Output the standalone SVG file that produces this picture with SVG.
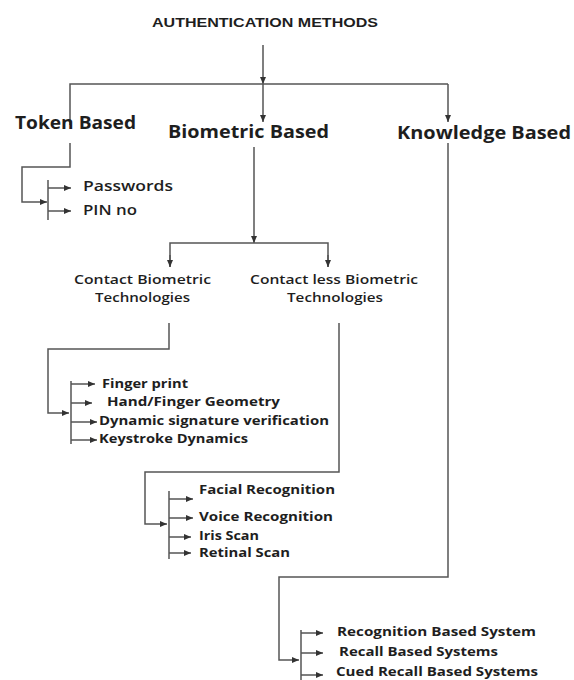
<svg xmlns="http://www.w3.org/2000/svg" width="574" height="680" viewBox="0 0 574 680">
<style>
.c{fill:none;stroke:#555;stroke-width:1.5}
.t{font-family:"Open Sans","Liberation Sans",sans-serif;fill:#1e1e1e}
.h{font-size:17px;font-weight:bold}
.s{font-size:12.5px;font-weight:600}
.l{font-size:12px;font-weight:bold}
.p{font-size:14px;font-weight:600}
.ttl{font-family:"Liberation Sans",Arial,sans-serif;font-size:13px;font-weight:bold;fill:#1e1e1e}
</style>
<defs>
<marker id="ah" markerUnits="userSpaceOnUse" markerWidth="7" markerHeight="6" refX="7" refY="3" orient="auto">
<path d="M0,0 L7,3 L0,6 z" fill="#333"/>
</marker>
</defs>
<rect width="574" height="680" fill="#fff"/>
<g id="connectors">
<path class="c" d="M263,45 V84" marker-end="url(#ah)"/>
<path class="c" d="M70,125 V84 H448"/>
<path class="c" d="M263,84 V122" marker-end="url(#ah)"/>
<path class="c" d="M448,84 V122" marker-end="url(#ah)"/>
<path class="c" d="M70,143 V167 H22 V202 H47" marker-end="url(#ah)"/>
<path class="c" d="M48,180 V220"/>
<path class="c" d="M48,188 H71" marker-end="url(#ah)"/>
<path class="c" d="M48,211 H71" marker-end="url(#ah)"/>
<path class="c" d="M254,147 V243" marker-end="url(#ah)"/>
<path class="c" d="M170,267 V243 H328 V267" />
<path class="c" d="M170,255 V267" marker-end="url(#ah)"/>
<path class="c" d="M328,255 V267" marker-end="url(#ah)"/>
<path class="c" d="M169,323 V349 H48 V413 H69" marker-end="url(#ah)"/>
<path class="c" d="M71,381 V444"/>
<path class="c" d="M71,384 H95" marker-end="url(#ah)"/>
<path class="c" d="M71,403 H92" marker-end="url(#ah)"/>
<path class="c" d="M71,422 H97" marker-end="url(#ah)"/>
<path class="c" d="M71,440 H97" marker-end="url(#ah)"/>
<path class="c" d="M339,323 V472 H145 V524 H167" marker-end="url(#ah)"/>
<path class="c" d="M169,491 V559"/>
<path class="c" d="M169,499 H193" marker-end="url(#ah)"/>
<path class="c" d="M169,518 H193" marker-end="url(#ah)"/>
<path class="c" d="M169,537 H191" marker-end="url(#ah)"/>
<path class="c" d="M169,553 H191" marker-end="url(#ah)"/>
<path class="c" d="M448,143 V577 H279 V660 H299" marker-end="url(#ah)"/>
<path class="c" d="M301,630 V680"/>
<path class="c" d="M301,633 H323" marker-end="url(#ah)"/>
<path class="c" d="M301,653 H323" marker-end="url(#ah)"/>
<path class="c" d="M301,675 H323" marker-end="url(#ah)"/>
</g>
<g id="title"><text class="ttl" x="152" y="27" textLength="226" lengthAdjust="spacingAndGlyphs">AUTHENTICATION METHODS</text></g>
<g id="token"><text class="t h" x="15" y="129" textLength="121" lengthAdjust="spacingAndGlyphs">Token Based</text></g>
<g id="biometric"><text class="t h" x="168" y="138" textLength="161" lengthAdjust="spacingAndGlyphs">Biometric Based</text></g>
<g id="knowledge"><text class="t h" x="397" y="139" textLength="174" lengthAdjust="spacingAndGlyphs">Knowledge Based</text></g>
<g id="passwords"><text class="t p" x="83" y="191" textLength="90" lengthAdjust="spacingAndGlyphs">Passwords</text></g>
<g id="pin"><text class="t p" x="83" y="215" textLength="54" lengthAdjust="spacingAndGlyphs">PIN no</text></g>
<g id="contact">
<text class="t s" x="74" y="284" textLength="137" lengthAdjust="spacingAndGlyphs">Contact Biometric</text>
<text class="t s" x="95" y="302" textLength="95" lengthAdjust="spacingAndGlyphs">Technologies</text>
</g>
<g id="contactless">
<text class="t s" x="250" y="284" textLength="168" lengthAdjust="spacingAndGlyphs">Contact less Biometric</text>
<text class="t s" x="287" y="302" textLength="96" lengthAdjust="spacingAndGlyphs">Technologies</text>
</g>
<g id="fingerprint"><text class="t l" x="102" y="388" textLength="86" lengthAdjust="spacingAndGlyphs">Finger print</text></g>
<g id="hand"><text class="t l" x="107" y="406" textLength="173" lengthAdjust="spacingAndGlyphs">Hand/Finger Geometry</text></g>
<g id="dynamic"><text class="t l" x="99" y="425" textLength="230" lengthAdjust="spacingAndGlyphs">Dynamic signature verification</text></g>
<g id="keystroke"><text class="t l" x="99" y="443" textLength="149" lengthAdjust="spacingAndGlyphs">Keystroke Dynamics</text></g>
<g id="facial"><text class="t l" x="199" y="494" textLength="136" lengthAdjust="spacingAndGlyphs">Facial Recognition</text></g>
<g id="voice"><text class="t l" x="199" y="521" textLength="134" lengthAdjust="spacingAndGlyphs">Voice Recognition</text></g>
<g id="iris"><text class="t l" x="199" y="540" textLength="60" lengthAdjust="spacingAndGlyphs">Iris Scan</text></g>
<g id="retinal"><text class="t l" x="199" y="557" textLength="91" lengthAdjust="spacingAndGlyphs">Retinal Scan</text></g>
<g id="recognition"><text class="t l" x="337" y="636" textLength="199" lengthAdjust="spacingAndGlyphs">Recognition Based System</text></g>
<g id="recall"><text class="t l" x="339" y="656" textLength="159" lengthAdjust="spacingAndGlyphs">Recall Based Systems</text></g>
<g id="cued"><text class="t l" x="336" y="676" textLength="202" lengthAdjust="spacingAndGlyphs">Cued Recall Based Systems</text></g>
</svg>
